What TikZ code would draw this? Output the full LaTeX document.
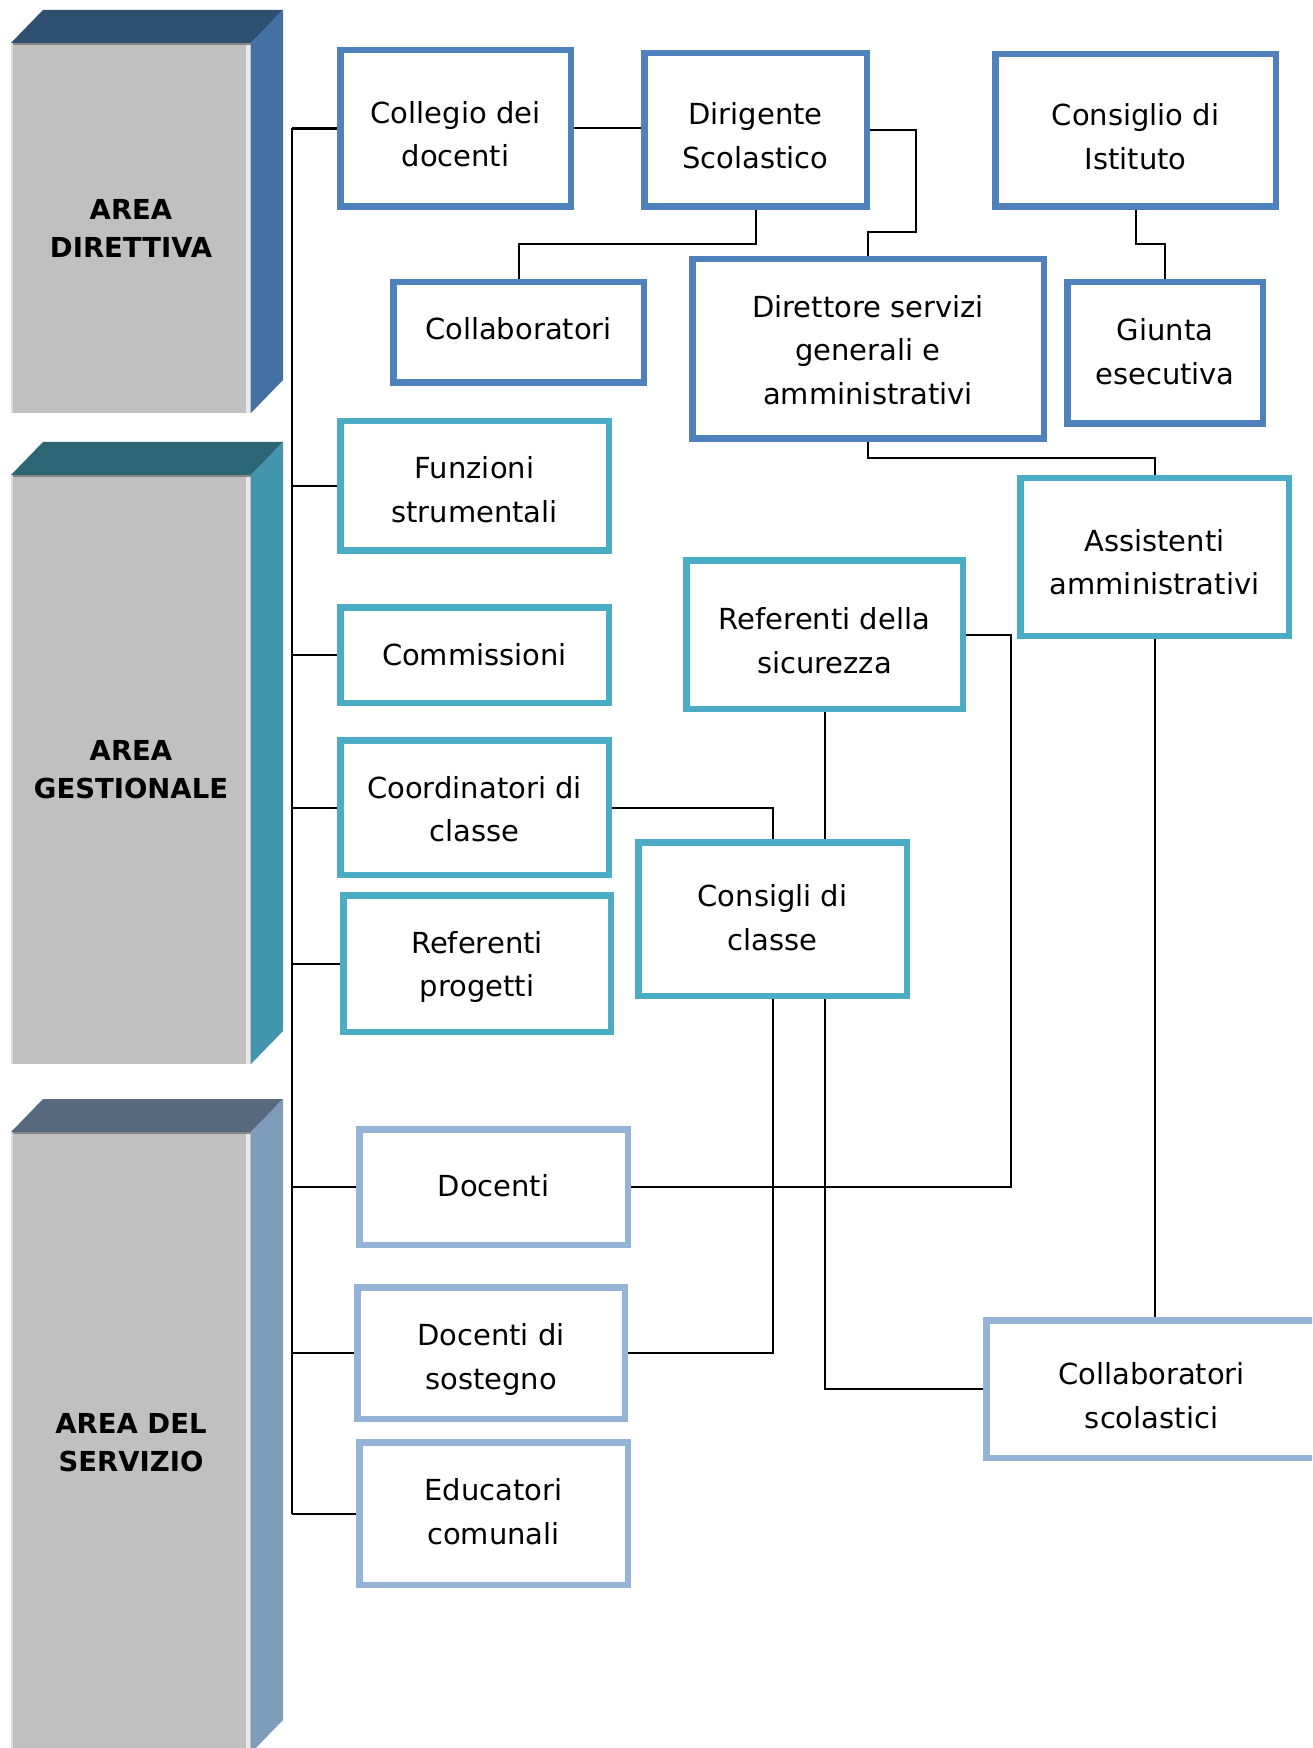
\documentclass[tikz,border=0pt]{standalone}
\usepackage{fontspec}
\setmainfont{DejaVu Sans}
\definecolor{dirblue}{HTML}{4F81BD}
\definecolor{gestteal}{HTML}{4BACC6}
\definecolor{servblue}{HTML}{95B3D7}
\definecolor{faceGrey}{HTML}{C0C0C0}
\definecolor{topA}{HTML}{2F4F70}
\definecolor{sideA}{HTML}{4570A4}
\definecolor{topB}{HTML}{2C6574}
\definecolor{sideB}{HTML}{4295AD}
\definecolor{topC}{HTML}{57697F}
\definecolor{sideC}{HTML}{809CBB}

% #1 name, #2 top of front face, #3 bottom of front face, #4 top colour, #5 side colour, #6 label
\newcommand\areablock[6]{%
  \fill[#4] (11,#2) -- (43,#2-33) -- (283,#2-33) -- (251,#2) -- cycle;
  \fill[#5] (251,#2) -- (283,#2-33) -- (283,#3-33) -- (251,#3) -- cycle;
  \fill[faceGrey] (11,#2) rectangle (251,#3);
  \fill[black!30!faceGrey] (11,#2) rectangle (251,#2+2);
  \fill[white!45!faceGrey] (11,#2) rectangle (13,#3);
  \fill[white!65!faceGrey] (246,#2+2) rectangle (250,#3);
  \node[areatext] (#1) at (131,{(#2+#3)/2}) {#6};
}

% box text with fixed strut height on the first line (#1) and depth on the last line (#2)
\newcommand\strutlines[3]{\vrule width0pt height #1pt depth 0pt\relax #3\vrule width0pt height 0pt depth #2pt\relax}

\begin{document}
\begin{tikzpicture}[x=0.5pt,y=-0.5pt,
  areatext/.style={font=\fontsize{13.75}{19}\selectfont\bfseries, align=center, text=black},
  unit/.style 2 args={draw, line width=3.25pt, fill=white, inner sep=0pt,
    font=\fontsize{14.5}{21.8}\selectfont, align=center, text=black,
    minimum width={(#1-6.5)/2}, minimum height={(#2-6.5)/2}},
  dirunit/.style={draw=dirblue},
  gestunit/.style={draw=gestteal},
  servunit/.style={draw=servblue},
  link/.style={line width=1pt, draw=black},
  spine/.style={line width=1.3pt, draw=black},
]
\clip (0,0) rectangle (1312,1748);

% area blocks
\areablock{areaDir}{43}{413}{topA}{sideA}{AREA\\DIRETTIVA}
\areablock{areaGest}{475}{1064}{topB}{sideB}{AREA\\GESTIONALE}
\areablock{areaServ}{1132}{1753}{topC}{sideC}{AREA DEL\\SERVIZIO}

% directive area
\node[unit={237}{163}, dirunit] (coll) at (455.5,128.5) {\strutlines{20.6}{4}{Collegio dei\\docenti}};
\node[unit={229}{160}, dirunit] (dir) at (755.5,130) {\strutlines{20.7}{4}{Dirigente\\Scolastico}};
\node[unit={287}{159}, dirunit] (cdi) at (1135.5,130.5) {\strutlines{20.8}{4}{Consiglio di\\Istituto}};
\node[unit={257}{107}, dirunit] (collab) at (518.5,332.5) {\strutlines{14.9}{7.5}{Collaboratori}};
\node[unit={358}{186}, dirunit] (dsga) at (868,349) {\strutlines{15.8}{4}{Direttore servizi\\generali e\\amministrativi}};
\node[unit={202}{148}, dirunit] (giunta) at (1165,353) {\strutlines{14.9}{5.6}{Giunta\\esecutiva}};

% management area
\node[unit={275}{136}, gestunit] (funz) at (474.5,486) {\strutlines{18.7}{4}{Funzioni\\strumentali}};
\node[unit={275}{102}, gestunit] (comm) at (474.5,655) {\strutlines{14.9}{4.3}{Commissioni}};
\node[unit={275}{141}, gestunit] (coord) at (474.5,807.5) {\strutlines{16.5}{4}{Coordinatori di\\classe}};
\node[unit={274}{143}, gestunit] (refprog) at (477,963.5) {\strutlines{15.3}{4}{Referenti\\progetti}};
\node[unit={275}{160}, gestunit] (consigli) at (772.5,919) {\strutlines{14.9}{5.2}{Consigli di\\classe}};
\node[unit={283}{155}, gestunit] (refsic) at (824.5,634.5) {\strutlines{21.2}{4}{Referenti della\\sicurezza}};
\node[unit={275}{164}, gestunit] (assist) at (1154.5,557) {\strutlines{20.1}{4}{Assistenti\\amministrativi}};

% service area
\node[unit={275}{122}, servunit] (doc) at (493.5,1187) {\strutlines{14.9}{5.7}{Docenti}};
\node[unit={274}{138}, servunit] (sost) at (491,1353) {\strutlines{18.3}{4}{Docenti di\\sostegno}};
\node[unit={275}{149}, servunit] (educ) at (493.5,1513.5) {\strutlines{14.9}{6.1}{Educatori\\comunali}};
\node[unit={337}{144}, servunit] (collsc) at (1151.5,1389) {\strutlines{21.3}{4}{Collaboratori\\scolastici}};

% left spine with its branches
\draw[spine] (coll.west) -- ++(-45,0) coordinate (spinetop);
\draw[spine] (spinetop) -- (spinetop |- educ.west);
\foreach \n in {funz,comm,coord,refprog,doc,sost,educ}
  \draw[link] (spinetop |- \n.west) -- (\n.west);

% directive connections
\draw[link] (coll.east) -- (coll.east -| dir.west);
\draw[link] (dir.south) -- ++(0,34) -| (collab.north);
\draw[link] (dir.east) -- ++(46,0) -- ++(0,102) -| (dsga.north);
\draw[link] (cdi.south) -- ++(0,34) -| (giunta.north);
\draw[link] (dsga.south) -- ++(0,16) -| (assist.north);

% management connections
\draw[link] (coord.east) -| (consigli.north);
\draw[link] (refsic.south) -- (refsic.south |- consigli.north);
\draw[link] (refsic.east) -- ++(45,0) |- (doc.east);
\draw[link] (consigli.south) |- (sost.east);
\draw[link] (consigli.south -| refsic.south) |- (collsc.west);
\draw[link] (assist.south) -- (assist.south |- collsc.north);
\end{tikzpicture}
\end{document}
